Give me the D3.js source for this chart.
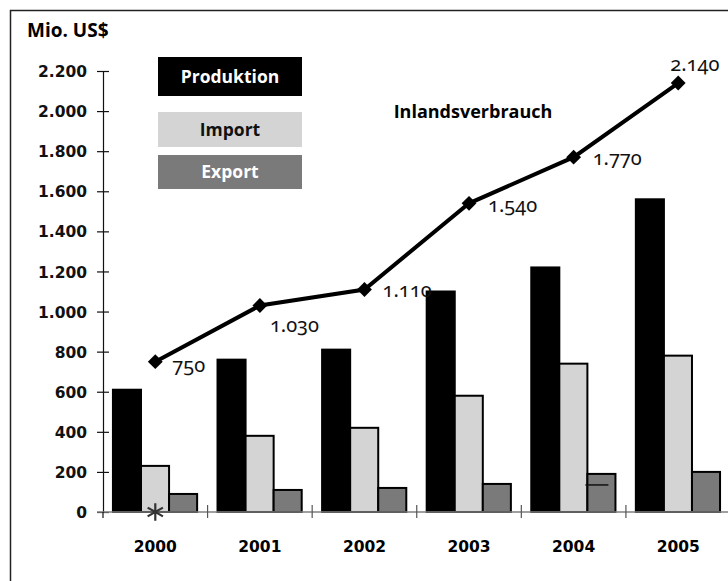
<!DOCTYPE html>
<html>
  <head>
    <meta charset="utf-8">
    <title>Produktion, Import, Export und Inlandsverbrauch</title>
    <style>
      body { margin: 0; background: #fff; }
      svg { display: block; }
      .tick text { font-family: "DejaVu Sans", Verdana, sans-serif; font-weight: bold; font-size: 15.5px; fill: #111; }
      .lbl { font-family: "Open Sans", "Noto Sans", sans-serif; font-weight: bold; }
      .val { font-family: "Noto Sans", "Open Sans", sans-serif; font-size: 20px; fill: #111; font-variant-numeric: oldstyle-nums; }
    </style>
  </head>
  <body>
    <div id="chart"></div>
    <script src="https://cdn.jsdelivr.net/npm/d3@7/dist/d3.min.js"></script>
    <script>
      // data
      var years = ['2000', '2001', '2002', '2003', '2004', '2005'];
      var series = ['Produktion', 'Import', 'Export'];
      var produktion = [610, 760, 810, 1100, 1220, 1560];
      var importVals = [230, 380, 420, 580, 740, 780];
      var exportVals = [90, 110, 120, 140, 190, 200];
      var inland = [750, 1030, 1110, 1540, 1770, 2140];
      var yTicks = [0, 200, 400, 600, 800, 1000, 1200, 1400, 1600, 1800, 2000, 2200];

      var width = 728, height = 581;
      var colors = { Produktion: '#000', Import: '#d4d4d4', Export: '#7a7a7a' };
      // label offsets (dx, dy) from the marker
      var labelOffsets = [[17, 3], [10, 19], [18, 1], [19, 2], [19, 1], [-8, -19]];

      var deFormat = d3.formatLocale({ decimal: ',', thousands: '.', grouping: [3], currency: ['', ' $'] }).format(',d');

      var svg = d3.select('#chart').append('svg')
        .attr('width', width)
        .attr('height', height);

      // frame (open to the right and bottom)
      svg.append('rect')
        .attr('x', 10.5).attr('y', 10.5)
        .attr('width', 800).attr('height', 700)
        .attr('fill', 'none')
        .attr('stroke', '#222')
        .attr('stroke-width', 1.5);

      var x = d3.scaleBand().domain(years).range([103, 730.5]);
      var xi = d3.scaleBand().domain(series)
        .range([x.bandwidth() * 0.095, x.bandwidth() * 0.9]);
      var y = d3.scaleLinear().domain([0, 2200]).range([512, 71]);

      // y axis
      var yAxis = svg.append('g')
        .attr('transform', 'translate(103,0)')
        .call(d3.axisLeft(y).tickValues(yTicks).tickFormat(deFormat).tickSize(6).tickPadding(10));
      yAxis.select('.domain').attr('stroke', '#111').attr('stroke-width', 1.2);
      yAxis.selectAll('.tick line').attr('x1', -6).attr('x2', 6).attr('stroke', '#111').attr('stroke-width', 1.2);
      yAxis.selectAll('.tick text').attr('dy', '0.36em');

      // bars
      var rows = years.map(function(yr, i) {
        return { year: yr, values: [produktion[i], importVals[i], exportVals[i]] };
      });
      var groups = svg.selectAll('.grp')
        .data(rows)
        .enter().append('g')
        .attr('class', 'grp')
        .attr('transform', function(d) { return 'translate(' + x(d.year) + ',0)'; });
      groups.selectAll('rect')
        .data(function(d) { return d.values.map(function(v, j) { return { key: series[j], value: v }; }); })
        .enter().append('rect')
        .attr('x', function(d) { return xi(d.key); })
        .attr('width', xi.bandwidth())
        .attr('y', function(d) { return y(d.value); })
        .attr('height', function(d) { return y(0) - y(d.value); })
        .attr('fill', function(d) { return colors[d.key]; })
        .attr('stroke', '#000')
        .attr('stroke-width', 2);

      // x axis
      svg.append('line')
        .attr('x1', 97).attr('x2', 730)
        .attr('y1', y(0)).attr('y2', y(0))
        .attr('stroke', '#7f7f7f').attr('stroke-width', 1.5);
      svg.selectAll('.xtick')
        .data(years.slice(1))
        .enter().append('line')
        .attr('class', 'xtick')
        .attr('x1', function(d) { return x(d); }).attr('x2', function(d) { return x(d); })
        .attr('y1', y(0) - 7).attr('y2', y(0) + 6)
        .attr('stroke', '#555').attr('stroke-width', 1.2);
      svg.append('line')
        .attr('x1', 103).attr('x2', 103)
        .attr('y1', y(0)).attr('y2', y(0) + 6)
        .attr('stroke', '#111').attr('stroke-width', 1.2);
      svg.selectAll('.xlab')
        .data(years)
        .enter().append('text')
        .attr('class', 'tick')
        .append('tspan')
        .attr('x', function(d) { return x(d) + x.bandwidth() / 2; })
        .attr('y', 552)
        .attr('text-anchor', 'middle')
        .style('font-family', '"DejaVu Sans", Verdana, sans-serif')
        .style('font-weight', 'bold')
        .style('font-size', '15.5px')
        .text(function(d) { return d; });

      // stray marks from the original
      svg.append('path')
        .attr('d', d3.symbol().type(d3.symbolAsterisk).size(220)())
        .attr('transform', 'translate(' + (x('2000') + x.bandwidth() / 2) + ',' + y(0) + ')')
        .attr('fill', 'none').attr('stroke', '#333').attr('stroke-width', 2.2);
      svg.append('line')
        .attr('x1', x('2004') + xi('Export') - 2).attr('x2', x('2004') + xi('Export') + 21)
        .attr('y1', y(135)).attr('y2', y(135))
        .attr('stroke', '#111').attr('stroke-width', 1.5);

      // line Inlandsverbrauch
      var cx = function(i) { return x(years[i]) + x.bandwidth() / 2; };
      var line = d3.line()
        .x(function(d, i) { return cx(i); })
        .y(function(d) { return y(d); });
      svg.append('path')
        .datum(inland)
        .attr('d', line)
        .attr('fill', 'none')
        .attr('stroke', '#000')
        .attr('stroke-width', 4);
      svg.selectAll('.mk')
        .data(inland)
        .enter().append('path')
        .attr('class', 'mk')
        .attr('d', d3.symbol().type(d3.symbolSquare).size(110)())
        .attr('transform', function(d, i) { return 'translate(' + cx(i) + ',' + y(d) + ') rotate(45)'; })
        .attr('fill', '#000');
      svg.selectAll('.val')
        .data(inland)
        .enter().append('text')
        .attr('class', 'val')
        .attr('x', function(d, i) { return cx(i) + labelOffsets[i][0]; })
        .attr('y', function(d, i) { return y(d) + labelOffsets[i][1]; })
        .attr('dy', '0.35em')
        .text(function(d) { return deFormat(d); });

      // titles and legend
      svg.append('text').attr('class', 'lbl')
        .attr('x', 27).attr('y', 37)
        .style('font-size', '19px')
        .text('Mio. US$');
      svg.append('text').attr('class', 'lbl')
        .attr('x', 473).attr('y', 118)
        .attr('text-anchor', 'middle')
        .style('font-size', '18px')
        .text('Inlandsverbrauch');

      var legendBoxes = [
        { key: 'Produktion', y: 57, h: 39, text: '#fff' },
        { key: 'Import', y: 112, h: 35, text: '#111' },
        { key: 'Export', y: 155, h: 34, text: '#fff' }
      ];
      var legend = svg.selectAll('.legend')
        .data(legendBoxes)
        .enter().append('g')
        .attr('class', 'legend');
      legend.append('rect')
        .attr('x', 158).attr('width', 144)
        .attr('y', function(d) { return d.y; })
        .attr('height', function(d) { return d.h; })
        .attr('fill', function(d) { return colors[d.key]; });
      legend.append('text').attr('class', 'lbl')
        .attr('x', 230)
        .attr('y', function(d) { return d.y + d.h / 2; })
        .attr('dy', '0.36em')
        .attr('text-anchor', 'middle')
        .style('font-size', '17.5px')
        .attr('fill', function(d) { return d.text; })
        .text(function(d) { return d.key; });
    </script>
  </body>
</html>
